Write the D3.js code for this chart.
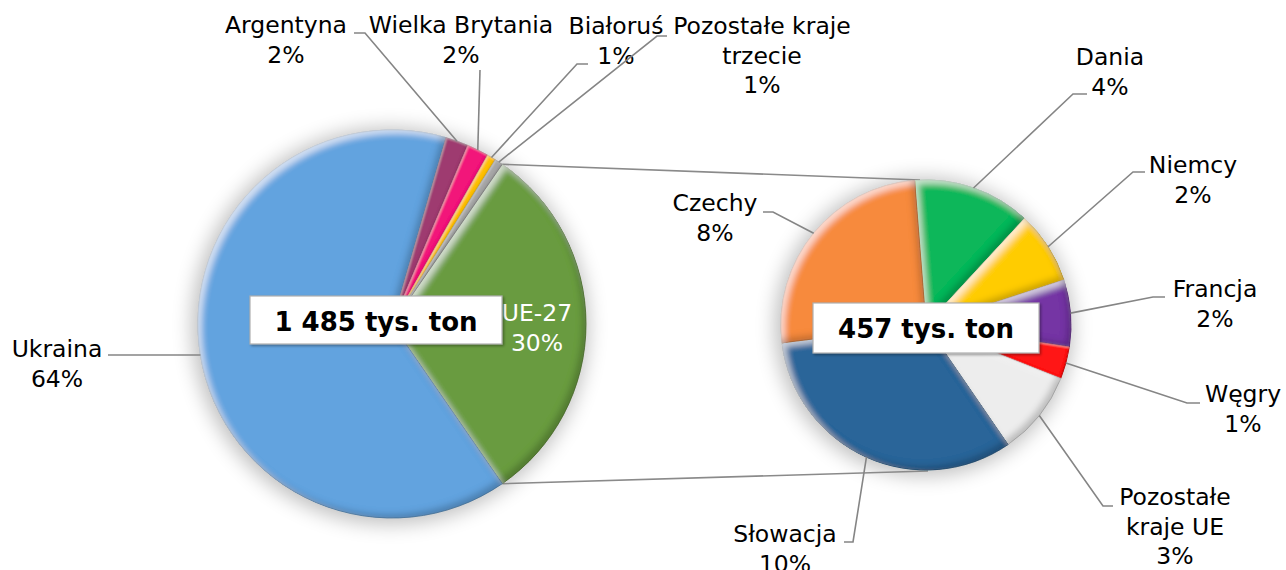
<!DOCTYPE html>
<html>
<head>
<meta charset="utf-8">
<script src="https://cdn.jsdelivr.net/npm/d3@7"></script>
<style>
  html, body { margin: 0; padding: 0; background: #fff; }
  svg { display: block; }
  text { font-family: "DejaVu Sans", Verdana, sans-serif; }
</style>
</head>
<body>
<div id="chart"></div>
<script>
// ---- data (thousand tonnes) ----
const leftNames  = ["UE-27", "Ukraina", "Argentyna", "Wielka Brytania", "Białoruś", "Pozostałe kraje trzecie"];
const leftValues = [457, 952, 28, 27, 11, 10];
const leftPct    = ["30%", "64%", "2%", "2%", "1%", "1%"];
const leftColors = ["#699B3F", "#62A3DF", "#9E3B70", "#F2177A", "#FFC000", "#A6A6A6"];

const rightNames  = ["Dania", "Niemcy", "Francja", "Węgry", "Pozostałe kraje UE", "Słowacja", "Czechy"];
const rightValues = [60, 37, 34, 16.5, 43, 149, 117.5];
const rightPct    = ["4%", "2%", "2%", "1%", "3%", "10%", "8%"];
const rightColors = ["#0DB75A", "#FFCC00", "#7534A4", "#FF1212", "#EDEDED", "#2C6599", "#F78A3D"];

const totalLabels = ["1 485 tys. ton", "457 tys. ton"];

// ---- layout ----
const W = 1286, H = 570;
const L = {cx: 392, cy: 324, r: 194};
const R = {cx: 926, cy: 325, r: 145};
const rightStart = -4.5 * Math.PI / 180;
const fontSize = 23.5, lineH = 29.5;

// label layout: text centre x, first baseline y, break after n words, leader path (elbow points)
const labelLayout = {
  "Ukraina":               {x: 57,   y: 357, br: 1, pts: [[108, 355]]},
  "Argentyna":             {x: 286,  y: 33,  br: 1, pts: [[354, 33], [365, 33]]},
  "Wielka Brytania":       {x: 461,  y: 33,  br: 2, pts: [[480, 70]]},
  "Białoruś":              {x: 616,  y: 34,  br: 1, pts: [[588, 64], [577, 64]]},
  "Pozostałe kraje trzecie": {x: 762, y: 34, br: 2, pts: [[667, 36], [657, 36]]},
  "UE-27":                 {x: 537,  y: 321, br: 1, inside: true},
  "Czechy":                {x: 715,  y: 211, br: 1, pts: [[763, 212], [773, 212]]},
  "Dania":                 {x: 1110, y: 65,  br: 1, pts: [[1087, 94], [1073, 94]]},
  "Niemcy":                {x: 1193, y: 173, br: 1, pts: [[1145, 172], [1133, 172]]},
  "Francja":               {x: 1215, y: 297, br: 1, pts: [[1165, 297], [1153, 297]]},
  "Węgry":                 {x: 1243, y: 402, br: 1, pts: [[1200, 403], [1187, 403]]},
  "Pozostałe kraje UE":    {x: 1175, y: 505, br: 1, pts: [[1113, 506], [1103, 506]]},
  "Słowacja":              {x: 785,  y: 542, br: 1, pts: [[844, 542], [853, 542]]}
};

const svg = d3.select("#chart").append("svg").attr("width", W).attr("height", H);
const defs = svg.append("defs");

// soft shadow
const sh = defs.append("filter").attr("id", "shadow").attr("x", "-30%").attr("y", "-30%").attr("width", "160%").attr("height", "160%");
sh.append("feGaussianBlur").attr("stdDeviation", 10);

// bevel filters
function makeBevel(id, blur, off, hiOp, loOp) {
  const bv = defs.append("filter").attr("id", id).attr("x", "-5%").attr("y", "-5%").attr("width", "110%").attr("height", "110%");
  bv.append("feGaussianBlur").attr("in", "SourceAlpha").attr("stdDeviation", blur).attr("result", "blur");
  bv.append("feOffset").attr("in", "blur").attr("dx", off).attr("dy", off).attr("result", "bOffA");
  bv.append("feOffset").attr("in", "blur").attr("dx", -off).attr("dy", -off).attr("result", "bOffB");
  bv.append("feComposite").attr("in", "SourceAlpha").attr("in2", "bOffA").attr("operator", "arithmetic")
    .attr("k1", 0).attr("k2", 1).attr("k3", -1).attr("k4", 0).attr("result", "hiMask");
  bv.append("feComposite").attr("in", "SourceAlpha").attr("in2", "bOffB").attr("operator", "arithmetic")
    .attr("k1", 0).attr("k2", 1).attr("k3", -1).attr("k4", 0).attr("result", "loMask");
  bv.append("feFlood").attr("flood-color", "#ffffff").attr("flood-opacity", hiOp).attr("result", "white");
  bv.append("feComposite").attr("in", "white").attr("in2", "hiMask").attr("operator", "in").attr("result", "hi");
  bv.append("feFlood").attr("flood-color", "#000000").attr("flood-opacity", loOp).attr("result", "black");
  bv.append("feComposite").attr("in", "black").attr("in2", "loMask").attr("operator", "in").attr("result", "lo");
  const mg = bv.append("feMerge");
  mg.append("feMergeNode").attr("in", "SourceGraphic");
  mg.append("feMergeNode").attr("in", "hi");
  mg.append("feMergeNode").attr("in", "lo");
}
makeBevel("bevel", 3.2, 4, 0.6, 0.4);
makeBevel("bevelThin", 1.0, 1.2, 0.35, 0.3);

// box shadow
const bs = defs.append("filter").attr("id", "boxsh").attr("x", "-10%").attr("y", "-30%").attr("width", "120%").attr("height", "160%");
bs.append("feDropShadow").attr("dx", 1.5).attr("dy", 1.5).attr("stdDeviation", 1).attr("flood-color", "#000").attr("flood-opacity", 0.35);

// pies
const leftTotal = d3.sum(leftValues);
const ueAngle = 2 * Math.PI * leftValues[0] / leftTotal;
const leftPie = d3.pie().sort(null).value(d => d.v)
  .startAngle(Math.PI / 2 - ueAngle / 2).endAngle(Math.PI / 2 - ueAngle / 2 + 2 * Math.PI);
const rightPie = d3.pie().sort(null).value(d => d.v)
  .startAngle(rightStart).endAngle(rightStart + 2 * Math.PI);

const leftData = leftPie(leftNames.map((n, i) => ({n, v: leftValues[i], p: leftPct[i], c: leftColors[i]})));
const rightData = rightPie(rightNames.map((n, i) => ({n, v: rightValues[i], p: rightPct[i], c: rightColors[i]})));

function edgePoint(P, a) { return [P.cx + P.r * Math.sin(a), P.cy - P.r * Math.cos(a)]; }

// shadows
[L, R].forEach(P => {
  svg.append("circle").attr("cx", P.cx - 2).attr("cy", P.cy + 2).attr("r", P.r + 4)
    .attr("fill", "#000").attr("opacity", 0.25).attr("filter", "url(#shadow)");
});

// connector lines
const ueArc = leftData[0];
const pTop = edgePoint(L, ueArc.startAngle), pBot = edgePoint(L, ueArc.endAngle);
const lineGen = d3.line();
svg.append("path").attr("d", lineGen([pTop, [R.cx - 6, R.cy - R.r]])).attr("stroke", "#8a8a8a").attr("stroke-width", 1.6).attr("fill", "none");
svg.append("path").attr("d", lineGen([pBot, [R.cx + 2, R.cy + R.r + 1]])).attr("stroke", "#8a8a8a").attr("stroke-width", 1.6).attr("fill", "none");

function drawPie(P, data) {
  const arc = d3.arc().innerRadius(0).outerRadius(P.r);
  const g = svg.append("g").attr("transform", `translate(${P.cx},${P.cy})`);
  g.selectAll("path").data(data).join("path")
    .attr("d", arc)
    .attr("fill", d => d.data.c)
    .attr("stroke", d => d3.color(d.data.c).darker(0.7))
    .attr("stroke-width", 0.7)
    .attr("filter", d => (d.endAngle - d.startAngle) * P.r < 40 ? "url(#bevelThin)" : "url(#bevel)");
}
drawPie(L, leftData);
drawPie(R, rightData);

// labels & leaders
function drawLabels(P, data) {
  data.forEach(d => {
    const lay = labelLayout[d.data.n];
    if (!lay) return;
    const words = d.data.n.split(" ");
    const lines = [words.slice(0, lay.br).join(" ")];
    if (words.length > lay.br) lines.push(words.slice(lay.br).join(" "));
    lines.push(d.data.p);
    const t = svg.append("text").attr("text-anchor", "middle").attr("font-size", fontSize)
      .attr("fill", lay.inside ? "#ffffff" : "#000000");
    lines.forEach((ln, i) => t.append("tspan").attr("x", lay.x).attr("y", lay.y + i * lineH).text(ln));
    if (lay.pts) {
      const mid = (d.startAngle + d.endAngle) / 2;
      const pts = lay.pts.concat([edgePoint(P, mid)]);
      svg.append("path").attr("d", lineGen(pts)).attr("fill", "none")
        .attr("stroke", "#858585").attr("stroke-width", 1.6);
    }
  });
}
drawLabels(L, leftData);
drawLabels(R, rightData);

// total boxes
const boxes = [
  {label: totalLabels[0], x: 250, y: 296, w: 252, h: 48, ty: 331},
  {label: totalLabels[1], x: 813, y: 303, w: 226, h: 50, ty: 338}
];
boxes.forEach(b => {
  svg.append("rect").attr("x", b.x).attr("y", b.y).attr("width", b.w).attr("height", b.h)
    .attr("fill", "#ffffff").attr("stroke", "#b0b0b0").attr("stroke-width", 1.2).attr("filter", "url(#boxsh)");
  svg.append("text").attr("x", b.x + b.w / 2).attr("y", b.ty).attr("text-anchor", "middle")
    .attr("font-size", 26).attr("font-weight", "bold").attr("fill", "#000").text(b.label);
});
</script>
</body>
</html>
